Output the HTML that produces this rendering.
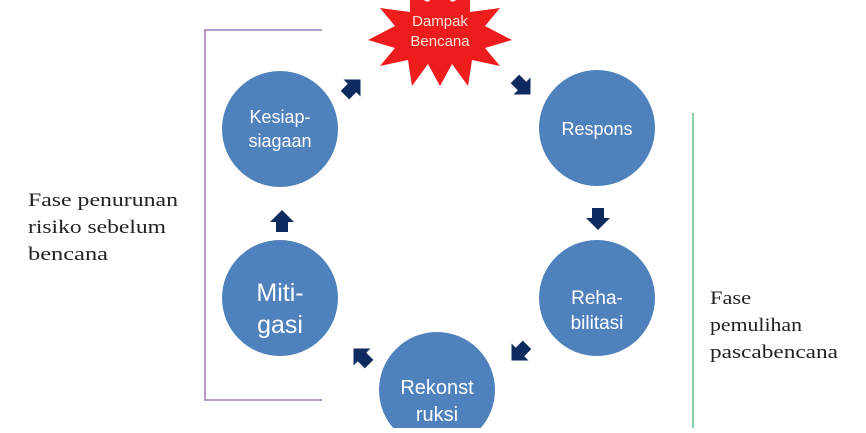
<!DOCTYPE html>
<html><head><style>
body{margin:0;background:#fff;width:866px;height:428px;overflow:hidden}
svg text{font-family:"Liberation Sans",sans-serif}
</style></head><body>
<svg width="866" height="428" viewBox="0 0 866 428">
<defs>
<polygon id="ar" points="0,-12 12,0 6,0 6,10 -6,10 -6,0 -12,0" fill="#0f2a5e"/>
</defs>
<path d="M322,30 H205 V400 H322" fill="none" stroke="#9b7bb5" stroke-width="1.5"/>
<line x1="693" y1="113" x2="693" y2="428" stroke="#5cc08a" stroke-width="1.5"/>
<polygon fill="#ee1c1c" points="440,-10 452,2 470,-6 470,12 500,8 485,26 512,40 485,48 500,66 472,60 468,86 452,64 440,86 428,64 412,86 408,60 380,66 395,48 368,40 395,26 380,8 410,12 410,-6 428,2"/>
<text x="440" y="26" font-size="15" fill="#fce0d8" text-anchor="middle">Dampak</text>
<text x="440" y="46" font-size="15" fill="#fce0d8" text-anchor="middle">Bencana</text>
<g fill="#4f81bd">
<circle cx="280" cy="129" r="58"/><circle cx="597" cy="128" r="58"/>
<circle cx="597" cy="298" r="58"/><circle cx="280" cy="298" r="58"/>
<circle cx="437" cy="390" r="58"/>
</g>
<g fill="#fff" text-anchor="middle">
<text x="280" y="123" font-size="18">Kesiap-</text><text x="280" y="147" font-size="18">siagaan</text>
<text x="597" y="135" font-size="18">Respons</text>
<text x="597" y="304" font-size="19">Reha-</text><text x="597" y="329" font-size="19">bilitasi</text>
<text x="280" y="301" font-size="25">Miti-</text><text x="280" y="333" font-size="25">gasi</text>
<text x="437" y="394" font-size="20">Rekonst</text><text x="437" y="421" font-size="20">ruksi</text>
</g>
<use href="#ar" transform="translate(352,88) rotate(45)"/>
<use href="#ar" transform="translate(522,86) rotate(135)"/>
<use href="#ar" transform="translate(598,218) rotate(180)"/>
<use href="#ar" transform="translate(520,352) rotate(225)"/>
<use href="#ar" transform="translate(362,357) rotate(-45)"/>
<use href="#ar" transform="translate(282,222)"/>
<g font-size="19" fill="#222">
<text x="28" y="206" textLength="150" lengthAdjust="spacingAndGlyphs" style="font-family:'Liberation Serif',serif">Fase penurunan</text>
<text x="28" y="233" textLength="138" lengthAdjust="spacingAndGlyphs" style="font-family:'Liberation Serif',serif">risiko sebelum</text>
<text x="28" y="260" textLength="80" lengthAdjust="spacingAndGlyphs" style="font-family:'Liberation Serif',serif">bencana</text>
<text x="710" y="304" textLength="41" lengthAdjust="spacingAndGlyphs" style="font-family:'Liberation Serif',serif">Fase</text>
<text x="710" y="331" textLength="92" lengthAdjust="spacingAndGlyphs" style="font-family:'Liberation Serif',serif">pemulihan</text>
<text x="710" y="358" textLength="128" lengthAdjust="spacingAndGlyphs" style="font-family:'Liberation Serif',serif">pascabencana</text>
</g>
</svg>
</body></html>
